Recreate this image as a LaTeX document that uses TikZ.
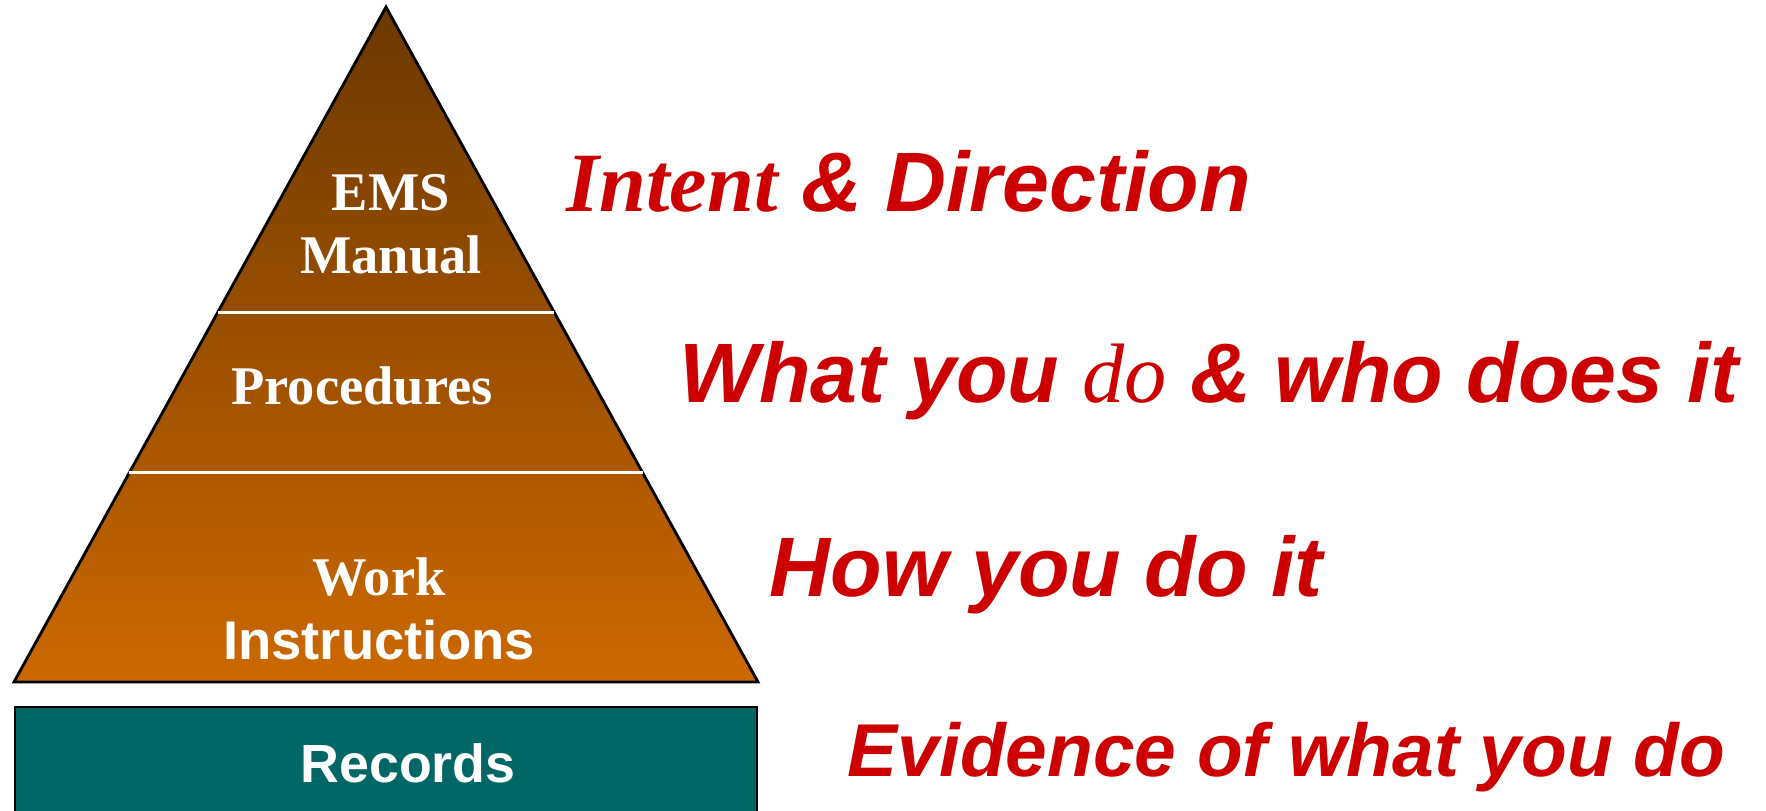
\documentclass[tikz,border=0pt]{standalone}
\usepackage{fontspec}
\setmainfont{Liberation Serif}
\setsansfont{Liberation Sans}
\usetikzlibrary{calc}
\definecolor{pyrtop}{RGB}{108,56,0}
\definecolor{pyrbase}{RGB}{204,104,0}
\definecolor{recteal}{RGB}{0,102,102}
\definecolor{notered}{RGB}{204,0,0}

\begin{document}
\begin{tikzpicture}[
  tierlabel/.style={text=white, font=\fontsize{15.5}{18}\selectfont\bfseries, align=center, inner sep=0pt},
  notelabel/.style={text=notered, font=\fontsize{24}{28}\selectfont\sffamily\bfseries\itshape, anchor=base west, inner sep=0pt}
]
  \useasboundingbox (0,0) rectangle (17.66,8.11);

  % Pyramid
  \coordinate (apex) at (3.86,8.04);
  \coordinate (bl) at (0.14,1.29);
  \coordinate (br) at (7.58,1.29);
  \shade[top color=pyrtop, bottom color=pyrbase] (apex) -- (br) -- (bl) -- cycle;
  \draw[line width=0.8pt] (apex) -- (br) -- (bl) -- cycle;

  % Tier dividers
  \draw[white, line width=0.9pt] ($(apex)!0.452!(bl)$) -- ($(apex)!0.452!(br)$);
  \draw[white, line width=0.9pt] ($(apex)!0.690!(bl)$) -- ($(apex)!0.690!(br)$);

  % Records bar
  \draw[line width=0.8pt, fill=recteal] (0.15,1.04) rectangle (7.57,-0.3);

  % Tier labels
  \node[tierlabel] (manual) at (3.91,5.87) {EMS\\Manual};
  \node[tierlabel, anchor=base] (proc) at (3.62,4.06) {Procedures};
  \node[tierlabel] (work) at (3.79,2.02) {Work\\{\sffamily Instructions}};
  \node[tierlabel, font=\fontsize{15.3}{18}\selectfont\sffamily\bfseries, anchor=base] (records) at (4.08,0.28) {Records};

  % Notes on the right
  \node[notelabel] (intent) at (5.66,5.99) {{\rmfamily Intent} \& Direction};
  \node[notelabel] (whatdo) at (6.79,4.08) {What you {\rmfamily\mdseries do} \& who does it};
  \node[notelabel] (howdo) at (7.69,2.14) {How you do it};
  \node[notelabel, font=\fontsize{21.3}{24}\selectfont\sffamily\bfseries\itshape] (evidence) at (8.47,0.34) {Evidence of what you do};
\end{tikzpicture}
\end{document}
